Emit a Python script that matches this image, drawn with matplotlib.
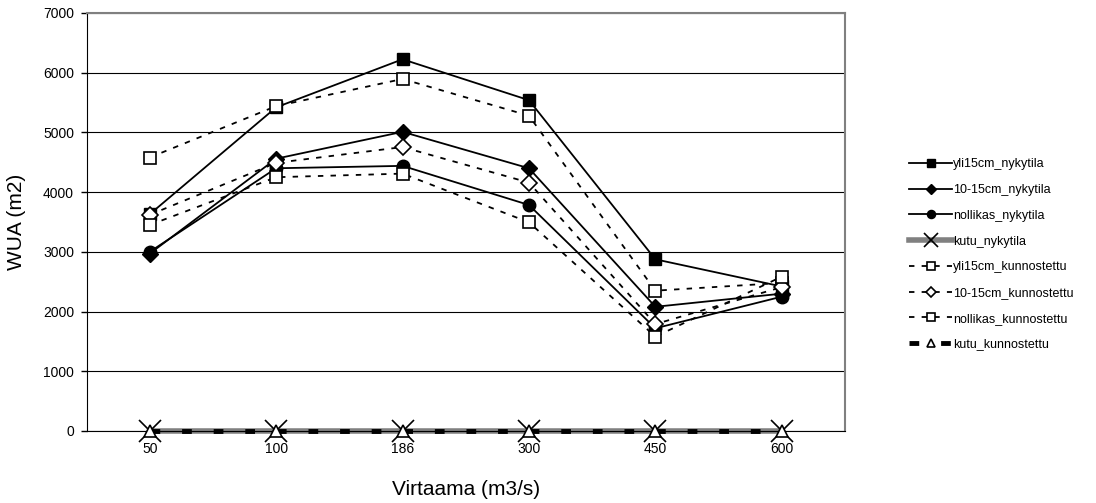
import matplotlib
matplotlib.use('Agg')
import matplotlib.pyplot as plt
import numpy as np

plt.rcParams['font.family'] = ['Liberation Sans', 'DejaVu Sans']

# virtaama (m3/s)
flows = ['50', '100', '186', '300', '450', '600']

yli15_nyk = [3630, 5420, 6225, 5540, 2875, 2420]
v10_15_nyk = [2970, 4560, 5010, 4400, 2080, 2300]
nollikas_nyk = [3000, 4400, 4440, 3785, 1720, 2250]
kutu_nyk = [0, 0, 0, 0, 0, 0]
yli15_kunn = [4580, 5440, 5895, 5280, 2350, 2480]
v10_15_kunn = [3620, 4490, 4755, 4160, 1790, 2410]
nollikas_kunn = [3450, 4250, 4310, 3495, 1580, 2585]
kutu_kunn = [0, 0, 0, 0, 0, 0]

fig = plt.figure(figsize=(10.96, 5.03), dpi=100)
ax = fig.add_axes([86.5/1096, 1 - 431/503, (845 - 86.5)/1096, (431 - 13)/503])

x = np.arange(len(flows))
dash = (0, (3, 4))

ax.plot(x, kutu_nyk, color='#808080', lw=4, marker='x', ms=16, mec='black', mew=1.2,
        label='kutu_nykytila', zorder=2, clip_on=False)
ax.plot(x, kutu_kunn, color='black', lw=3.5, linestyle=(0, (2.0, 4.5)), marker='^', ms=9,
        mfc='white', mec='black', mew=1.2, label='kutu_kunnostettu', zorder=3, clip_on=False)

ax.plot(x, yli15_nyk, color='black', lw=1.3, marker='s', ms=9, mfc='black', mec='black',
        label='yli15cm_nykytila', zorder=4)
ax.plot(x, v10_15_nyk, color='black', lw=1.3, marker='D', ms=8, mfc='black', mec='black',
        label='10-15cm_nykytila', zorder=4)
ax.plot(x, nollikas_nyk, color='black', lw=1.3, marker='o', ms=9, mfc='black', mec='black',
        label='nollikas_nykytila', zorder=4)
ax.plot(x, yli15_kunn, color='black', lw=1.3, linestyle=dash, marker='s', ms=9, mfc='white',
        mec='black', mew=1.2, label='yli15cm_kunnostettu', zorder=5)
ax.plot(x, v10_15_kunn, color='black', lw=1.3, linestyle=dash, marker='D', ms=8, mfc='white',
        mec='black', mew=1.2, label='10-15cm_kunnostettu', zorder=5)
ax.plot(x, nollikas_kunn, color='black', lw=1.3, linestyle=dash, marker='s', ms=9, mfc='white',
        mec='black', mew=1.2, label='nollikas_kunnostettu', zorder=5)

ax.set_xlim(-0.5, len(flows) - 0.5)
ax.set_ylim(0, 7000)
ax.set_xticks(x)
ax.set_xticklabels(flows)
ax.set_yticks(range(0, 7001, 1000))
ax.tick_params(axis='x', length=0, labelsize=10, pad=8)
ax.tick_params(axis='y', length=4, direction='out', labelsize=10, width=1, pad=5)
ax.yaxis.grid(True, color='black', lw=0.8)
ax.set_axisbelow(True)

for s in ['top', 'right']:
    ax.spines[s].set_color('#808080')
    ax.spines[s].set_linewidth(1.5)
ax.spines['left'].set_color('black')
ax.spines['bottom'].set_color('black')

ax.set_xlabel('Virtaama (m3/s)', fontsize=15, labelpad=17)
ax.set_ylabel('WUA (m2)', fontsize=15, labelpad=12)

handles, labels = ax.get_legend_handles_labels()
order = ['yli15cm_nykytila', '10-15cm_nykytila', 'nollikas_nykytila', 'kutu_nykytila',
         'yli15cm_kunnostettu', '10-15cm_kunnostettu', 'nollikas_kunnostettu', 'kutu_kunnostettu']
hd = dict(zip(labels, handles))
leg = fig.legend([hd[k] for k in order], order, loc='upper left',
                 bbox_to_anchor=(898/1096, 1 - 147/503), frameon=False, fontsize=9,
                 handlelength=3.4, handletextpad=0.1, labelspacing=1.1, markerscale=0.65)

plt.savefig('out.png', dpi=100)
